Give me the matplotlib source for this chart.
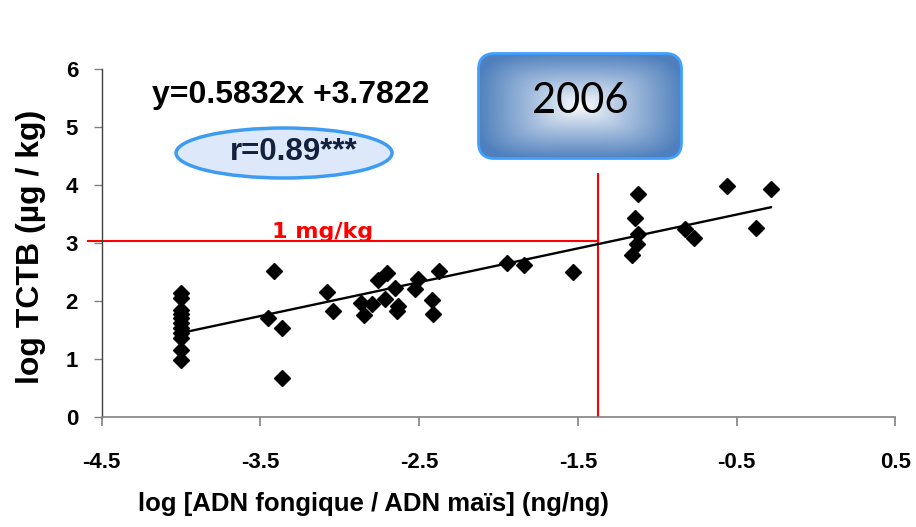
import numpy as np
import matplotlib.pyplot as plt
from matplotlib.patches import Ellipse, FancyBboxPatch

plt.rcParams['font.family'] = ['Liberation Sans', 'DejaVu Sans']

# points
x_vals = [-4.0, -4.0, -4.0, -4.0, -4.0, -4.0, -4.0, -4.0, -4.0, -4.0, -4.0,
          -3.412, -3.450, -3.366, -3.366, -3.082, -3.041, -2.866, -2.845,
          -2.799, -2.757, -2.700, -2.715, -2.652, -2.635, -2.641, -2.526,
          -2.505, -2.417, -2.411, -2.375, -1.948, -1.837, -1.532, -1.119,
          -1.140, -1.119, -1.129, -1.160, -0.825, -0.768, -0.562, -0.284,
          -0.377]
y_vals = [2.13, 2.05, 1.84, 1.78, 1.70, 1.62, 1.53, 1.45, 1.36, 1.16, 0.98,
          2.52, 1.70, 1.53, 0.68, 2.16, 1.82, 1.96, 1.76,
          1.95, 2.36, 2.49, 2.03, 2.23, 1.91, 1.83, 2.20,
          2.38, 2.02, 1.77, 2.51, 2.66, 2.62, 2.50, 3.84,
          3.44, 3.15, 2.99, 2.79, 3.25, 3.08, 3.98, 3.94,
          3.26]

slope = 0.5832
intercept = 3.7822
r_text = "r=0.89***"
year = "2006"
limit_y = 3.04      # 1 mg/kg
limit_x = -1.371
limit_label = "1 mg/kg"

xticks = [-4.5, -3.5, -2.5, -1.5, -0.5, 0.5]
xtick_labels = ["-4.5", "-3.5", "-2.5", "-1.5", "-0.5", "0.5"]
yticks = [0, 1, 2, 3, 4, 5, 6]
ytick_labels = ["0", "1", "2", "3", "4", "5", "6"]


def draw_year_box(fig):
    # box with a white-to-blue gradient from the centre
    W, H = 206, 108
    bax = fig.add_axes([477 / 916, (527 - 160) / 527, W / 916, H / 527])
    gx, gy = np.meshgrid(np.linspace(-1, 1, W), np.linspace(-1, 1, H))
    t = (np.abs(gx) ** 4 + np.abs(gy) ** 4) ** 0.25
    t = np.clip(t, 0, 1) ** 0.9
    blue = np.array([0.31, 0.50, 0.74])
    img = np.ones((H, W, 3)) * (1 - t[..., None]) + blue * t[..., None]
    im = bax.imshow(img, extent=[0, W, 0, H], aspect='auto', interpolation='bilinear')
    box = FancyBboxPatch((1.5, 1.5), W - 3, H - 3, boxstyle='round,pad=0,rounding_size=16',
                         facecolor='none', edgecolor='#3fa0ff', lw=2)
    bax.add_patch(box)
    im.set_clip_path(box)
    bax.set_xlim(0, W)
    bax.set_ylim(0, H)
    bax.axis('off')
    bax.text(W / 2, 59, year, ha='center', va='center', fontsize=30,
             family='Lato', color='black')


fig = plt.figure(figsize=(9.16, 5.27), dpi=100)
ax = fig.add_axes([0.111, 0.2087, 0.8664, 0.6603])

ax.plot(x_vals, y_vals, ls='none', marker='D', ms=8, color='black', zorder=3)
xl = np.array([min(x_vals), max(x_vals)])
ax.plot(xl, slope * xl + intercept, color='black', lw=1.7, zorder=3)

ax.plot([-4.588, limit_x], [limit_y, limit_y], color='red', lw=1.5, clip_on=False)
ax.plot([limit_x, limit_x], [0, 4.19], color='red', lw=1.5)
ax.text(-3.106, 3.19, limit_label, color='red', fontsize=16, fontweight='bold',
        family='DejaVu Sans', ha='center', va='center')

ax.text(-3.307, 5.55, "y=" + str(slope) + "x +" + str(intercept), fontsize=23,
        fontweight='bold', ha='center', va='center')
ax.add_patch(Ellipse((-3.351, 4.552), 1.361, 0.862, facecolor='#dde9fa',
                     edgecolor='#3d9cf2', lw=2.5))
ax.text(-3.29, 4.569, r_text, fontsize=22.5, fontweight='bold', color='#14213d',
        ha='center', va='center')

ax.set_xlim(-4.5, 0.5)
ax.set_ylim(0, 6)
ax.set_xticks(xticks)
ax.set_xticklabels(xtick_labels, fontsize=16, fontweight='bold')
ax.set_yticks(yticks)
ax.set_yticklabels(ytick_labels, fontsize=16, fontweight='bold')
ax.spines['top'].set_visible(False)
ax.spines['right'].set_visible(False)
ax.spines['bottom'].set_color('#808080')
ax.spines['bottom'].set_linewidth(1.2)
ax.spines['left'].set_color('#404040')
ax.spines['left'].set_linewidth(1.0)
ax.tick_params(axis='x', direction='out', length=6.5, width=1.2, color='#808080', pad=19)
ax.tick_params(axis='y', direction='out', length=6, width=1, color='#808080', pad=11)

ax.set_xlabel("log [ADN fongique / ADN maïs] (ng/ng)", fontsize=18.5, fontweight='bold')
ax.xaxis.set_label_coords(0.342, -0.215)
ax.set_ylabel("log TCTB (µg / kg)", fontsize=23, fontweight='bold')
ax.yaxis.set_label_coords(-0.07, 0.49)

draw_year_box(fig)

plt.savefig('out.png', dpi=100)
